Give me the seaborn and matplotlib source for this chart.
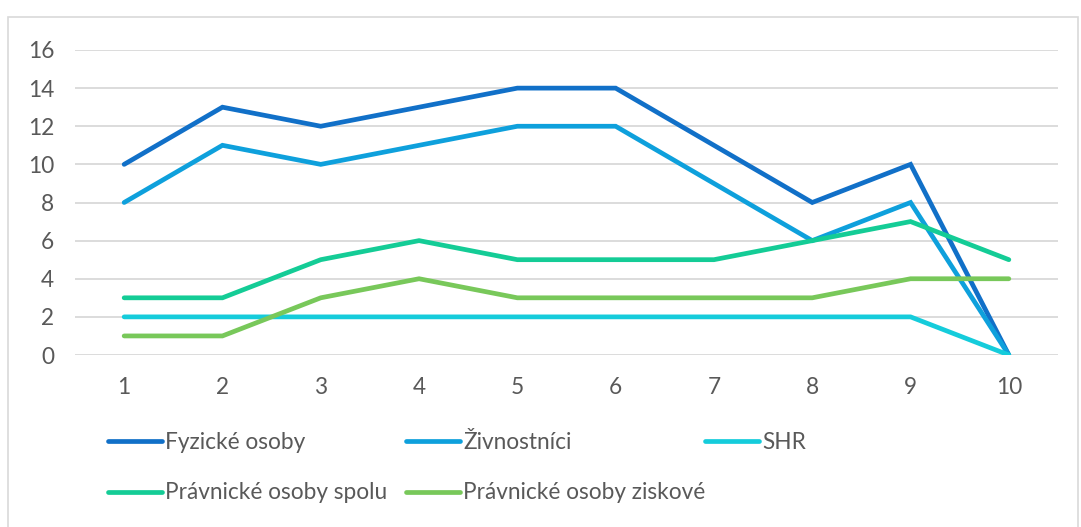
import pandas as pd
import matplotlib.pyplot as plt
import seaborn as sns
from matplotlib.patches import Rectangle

# údaje z grafu
x_vals = [1, 2, 3, 4, 5, 6, 7, 8, 9, 10]
fyzicke = [10, 13, 12, 13, 14, 14, 11, 8, 10, 0]
zivnostnici = [8, 11, 10, 11, 12, 12, 9, 6, 8, 0]
shr = [2, 2, 2, 2, 2, 2, 2, 2, 2, 0]
pravnicke_spolu = [3, 3, 5, 6, 5, 5, 5, 6, 7, 5]
pravnicke_ziskove = [1, 1, 3, 4, 3, 3, 3, 3, 4, 4]

series_names = ['Fyzické osoby', 'Živnostníci', 'SHR',
                'Právnické osoby spolu', 'Právnické osoby ziskové']
series_vals = [fyzicke, zivnostnici, shr, pravnicke_spolu, pravnicke_ziskove]
colors = ['#1170C8', '#0EA0DC', '#15CCDB', '#14CC96', '#78C85A']

df = pd.concat([pd.DataFrame({'x': x_vals, 'y': v, 'serie': n})
                for n, v in zip(series_names, series_vals)], ignore_index=True)

sns.set_theme(style='white')
plt.rcParams['font.family'] = ['Lato', 'DejaVu Sans']

W, H = 1081, 527
FS = 16.3
fig = plt.figure(figsize=(W / 100, H / 100), dpi=100)
ax = fig.add_axes([75 / W, 1 - 355 / H, (1058 - 75) / W, (355 - 50) / H])

sns.lineplot(data=df, x='x', y='y', hue='serie', hue_order=series_names,
             palette=colors, linewidth=3.4, ax=ax, legend=False,
             solid_capstyle='round', solid_joinstyle='miter')

ax.set_xlim(0.5, 10.5)
ax.set_ylim(0, 16)
ax.set_xticks(x_vals)
ax.set_yticks(range(0, 17, 2))
ax.yaxis.grid(True, color='#D9D9D9', linewidth=1.3)
ax.set_axisbelow(True)
for s in ax.spines.values():
    s.set_visible(False)
ax.tick_params(axis='both', length=0, labelsize=FS, labelcolor='#595959')
ax.tick_params(axis='y', pad=15)
ax.tick_params(axis='x', pad=16)
ax.set_xlabel('')
ax.set_ylabel('')

# legenda: Excel má pevné stĺpce, preto každý stĺpec zvlášť
handles = [plt.Line2D([], [], color=c, linewidth=3.4, solid_capstyle='round') for c in colors]
columns = [([0, 3], 108), ([1, 4], 406), ([2], 705)]
for idx, x0 in columns:
    fig.legend([handles[i] for i in idx], [series_names[i] for i in idx],
               loc='upper left', bbox_to_anchor=(x0 / W, 1 - 432 / H), ncol=1,
               frameon=False, fontsize=FS, labelcolor='#595959',
               handlelength=2.4, handletextpad=0.12,
               labelspacing=1.3, borderaxespad=0, borderpad=0)

# rámček grafu
fig.patches.append(Rectangle((8 / W, -0.05), (1078 - 8) / W, 1.05 - 17 / H,
                             transform=fig.transFigure, fill=False,
                             edgecolor='#D9D9D9', linewidth=1.2))

fig.savefig('out.png', dpi=100)
